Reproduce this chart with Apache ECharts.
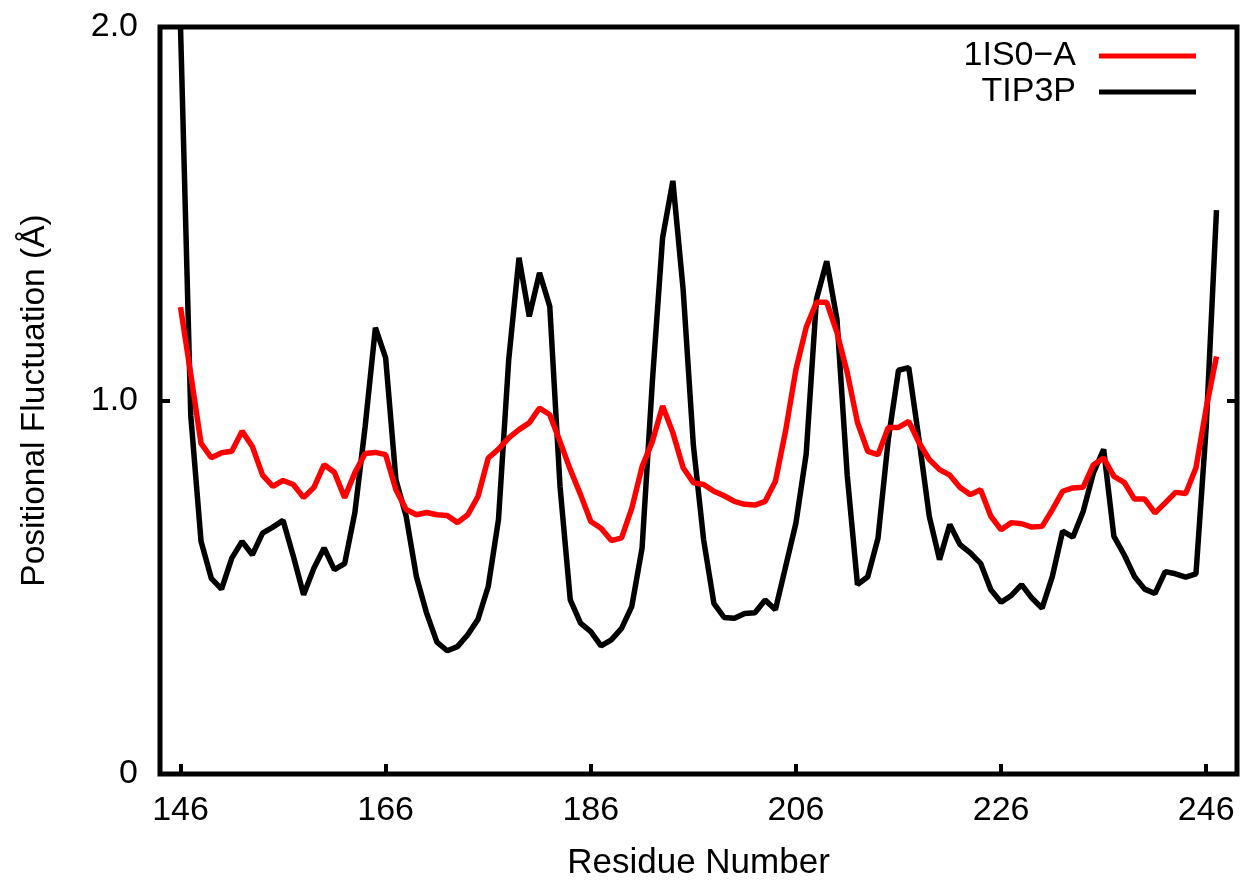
<!DOCTYPE html>
<html>
<head>
<meta charset="utf-8">
<title>Positional Fluctuation</title>
<script src="https://cdn.jsdelivr.net/npm/echarts@6/dist/echarts.min.js"></script>
<style>
  html, body { margin: 0; padding: 0; background: #fff; }
  #chart { width: 1243px; height: 882px; }
</style>
</head>
<body>
<div id="chart"></div>
<script>
// residue numbers run from 146 upward, one value per residue
const firstResidue = 146
const xTicks = [146, 166, 186, 206, 226, 246]
const yTicks = [0, 1, 2]
const yTickLabels = ['0', '1.0', '2.0']

const crystal = [ // 1IS0-A
  1.25, 1.07, 0.885, 0.847, 0.86, 0.864, 0.918, 0.877, 0.80, 0.77,
  0.786, 0.775, 0.74, 0.767, 0.828, 0.808, 0.74, 0.807, 0.858, 0.861,
  0.855, 0.761, 0.708, 0.694, 0.70, 0.694, 0.692, 0.673, 0.694, 0.743,
  0.846, 0.87, 0.90, 0.922, 0.94, 0.98, 0.962, 0.89, 0.815, 0.748,
  0.676, 0.658, 0.625, 0.632, 0.712, 0.823, 0.89, 0.985, 0.914, 0.82,
  0.78, 0.775, 0.757, 0.745, 0.73, 0.722, 0.72, 0.73, 0.784, 0.92,
  1.083, 1.196, 1.263, 1.263, 1.182, 1.075, 0.941, 0.864, 0.855, 0.928,
  0.928, 0.944, 0.887, 0.842, 0.815, 0.80, 0.767, 0.748, 0.761, 0.69,
  0.654, 0.673, 0.67, 0.661, 0.663, 0.708, 0.757, 0.766, 0.768, 0.828,
  0.846, 0.797, 0.781, 0.736, 0.736, 0.699, 0.726, 0.754, 0.751, 0.82,
  0.98, 1.118
]

const tip3p = [
  2.0, 0.96, 0.623, 0.524, 0.495, 0.578, 0.623, 0.587, 0.645, 0.661,
  0.679, 0.583, 0.48, 0.551, 0.605, 0.547, 0.563, 0.70, 0.93, 1.195,
  1.114, 0.788, 0.69, 0.528, 0.43, 0.353, 0.33, 0.341, 0.373, 0.414,
  0.502, 0.681, 1.11, 1.382, 1.225, 1.342, 1.252, 0.77, 0.466, 0.404,
  0.381, 0.343, 0.359, 0.39, 0.449, 0.605, 1.05, 1.436, 1.588, 1.298,
  0.88, 0.627, 0.457, 0.419, 0.417, 0.43, 0.432, 0.466, 0.44, 0.556,
  0.672, 0.857, 1.271, 1.373, 1.217, 0.80, 0.507, 0.528, 0.631, 0.895,
  1.081, 1.088, 0.895, 0.69, 0.574, 0.668, 0.614, 0.592, 0.564, 0.493,
  0.46, 0.478, 0.507, 0.471, 0.444, 0.529, 0.65, 0.634, 0.703, 0.806,
  0.869, 0.636, 0.587, 0.529, 0.495, 0.483, 0.542, 0.536, 0.527, 0.536,
  0.93, 1.51
]

const toPoints = arr => arr.map((v, i) => [firstResidue + i, v])

const font = '"Liberation Sans", Arial, Helvetica, sans-serif'
const chart = echarts.init(document.getElementById('chart'))

chart.setOption({
  animation: false,
  grid: {
    left: 160,
    right: 6,
    top: 27,
    bottom: 108,
    containLabel: false,
    outerBoundsMode: 'none',
    show: true,
    borderColor: '#000',
    borderWidth: 5
  },
  legend: {
    orient: 'vertical',
    align: 'right',
    right: 42,
    top: 34,
    icon: 'rect',
    itemWidth: 97,
    itemHeight: 5,
    itemGap: 2,
    textStyle: {
      fontFamily: font,
      fontSize: 34,
      color: '#000',
      padding: [0, 18, 0, 0]
    },
    data: ['1IS0\u2212A', 'TIP3P']
  },
  xAxis: {
    type: 'value',
    min: 144,
    max: 249,
    name: 'Residue Number',
    nameLocation: 'middle',
    nameGap: 72,
    nameTextStyle: { fontFamily: font, fontSize: 35, color: '#000' },
    splitLine: { show: false },
    axisLine: { show: false },
    axisTick: {
      inside: true,
      length: 10,
      customValues: xTicks,
      lineStyle: { color: '#000', width: 4 }
    },
    axisLabel: {
      customValues: xTicks,
      margin: 20,
      fontFamily: font,
      fontSize: 34,
      color: '#000'
    }
  },
  yAxis: [
    {
      type: 'value',
      min: 0,
      max: 2,
      interval: 1,
      name: 'Positional Fluctuation (\u00c5)',
      nameLocation: 'middle',
      nameGap: 108,
      nameTextStyle: { fontFamily: font, fontSize: 33.5, color: '#000' },
      splitLine: { show: false },
      axisLine: { show: false },
      axisTick: {
        inside: true,
        length: 10,
        lineStyle: { color: '#000', width: 4 }
      },
      axisLabel: {
        margin: 22,
        fontFamily: font,
        fontSize: 34,
        color: '#000',
        formatter: v => yTickLabels[yTicks.indexOf(v)]
      }
    },
    {
      type: 'value',
      position: 'right',
      min: 0,
      max: 2,
      interval: 1,
      splitLine: { show: false },
      axisLine: { show: false },
      axisTick: {
        inside: true,
        length: 10,
        lineStyle: { color: '#000', width: 4 }
      },
      axisLabel: { show: false }
    }
  ],
  series: [
    {
      name: '1IS0\u2212A',
      type: 'line',
      symbol: 'none',
      clip: true,
      z: 3,
      lineStyle: { color: '#ff0000', width: 5.5 },
      itemStyle: { color: '#ff0000' },
      data: toPoints(crystal)
    },
    {
      name: 'TIP3P',
      type: 'line',
      symbol: 'none',
      clip: true,
      z: 2,
      lineStyle: { color: '#000', width: 5.5 },
      itemStyle: { color: '#000' },
      data: toPoints(tip3p)
    }
  ]
})
</script>
</body>
</html>
